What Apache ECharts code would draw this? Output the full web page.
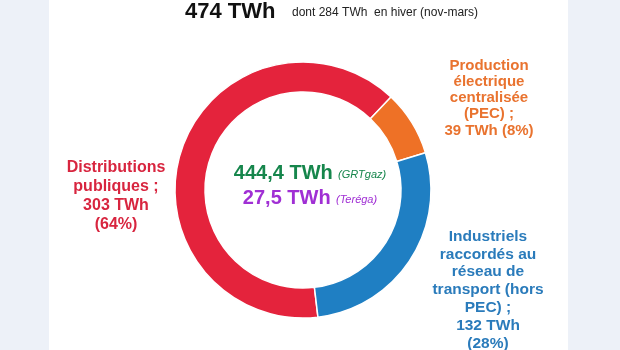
<!DOCTYPE html>
<html>
<head>
<meta charset="utf-8">
<script src="https://cdn.jsdelivr.net/npm/echarts@6/dist/echarts.min.js"></script>
<style>
html,body{margin:0;padding:0;background:#edf1f8;}
#chart{width:620px;height:350px;}
</style>
</head>
<body>
<div id="chart"></div>
<script>
// ---- data ----
var categories = ['Distributions\npubliques', 'Production\nélectrique\ncentralisée\n(PEC)', 'Industriels\nraccordés au\nréseau de\ntransport (hors\nPEC)'];
var values = [303, 39, 132];
var sliceColors = ['#e4233c', '#ee7126', '#1f7fc3'];
var labelColors = ['#d8253f', '#e9732f', '#2a7bbb'];
var totalTWh = [474];
var winterTWh = [284];
var operators = ['GRTgaz', 'Teréga'];
var operatorTWh = ['444,4', '27,5'];
var operatorColors = ['#16864c', '#a02fd4'];

// ---- layout ----
var labelPos = [
  {x: 116, y: 196.5, lh: 19, fs: 16},
  {x: 489, y: 98, lh: 16.3, fs: 15},
  {x: 488, y: 290, lh: 17.8, fs: 15.5}
];

var chart = echarts.init(document.getElementById('chart'), null, {renderer: 'canvas'});
var fontFam = '"Liberation Sans", Arial, sans-serif';

var option = {
  backgroundColor: '#edf1f8',
  animation: false,
  graphic: [
    {type: 'rect', z: -10, shape: {x: 49, y: 0, width: 519, height: 350}, style: {fill: '#ffffff'}},
    {type: 'text', left: 185, top: 1, style: {text: totalTWh[0] + ' TWh', font: 'bold 22px ' + fontFam, fill: '#111111'}},
    {type: 'text', left: 292, top: 7, style: {text: 'dont ' + winterTWh[0] + ' TWh  en hiver (nov-mars)', font: '12px ' + fontFam, fill: '#222222'}},
    {type: 'text', x: 310, y: 173, style: {
      text: '{a|' + operatorTWh[0] + ' TWh} {b|(' + operators[0] + ')}',
      align: 'center', verticalAlign: 'middle',
      rich: {
        a: {font: 'bold 20px ' + fontFam, fill: operatorColors[0]},
        b: {font: 'italic 11px ' + fontFam, fill: operatorColors[0], padding: [4, 0, 0, 2]}
      }
    }},
    {type: 'text', x: 310, y: 198, style: {
      text: '{a|' + operatorTWh[1] + ' TWh} {b|(' + operators[1] + ')}',
      align: 'center', verticalAlign: 'middle',
      rich: {
        a: {font: 'bold 20px ' + fontFam, fill: operatorColors[1]},
        b: {font: 'italic 11px ' + fontFam, fill: operatorColors[1], padding: [4, 0, 0, 2]}
      }
    }}
  ],
  series: [{
    type: 'pie',
    center: [303, 190],
    radius: [98, 128],
    startAngle: -83.3,
    clockwise: true,
    percentPrecision: 0,
    avoidLabelOverlap: false,
    itemStyle: {borderColor: '#ffffff', borderWidth: 1.5},
    labelLine: {show: false},
    label: {
      show: true,
      position: 'outside',
      fontFamily: fontFam,
      fontWeight: 'bold',
      align: 'center',
      formatter: function (p) {
        var sep = p.dataIndex === 1 ? ' ' : '\n';
        return p.name + ' ;\n' + p.value + ' TWh' + sep + '(' + p.percent + '%)';
      }
    },
    labelLayout: function (params) {
      var lp = labelPos[params.dataIndex];
      return {x: lp.x, y: lp.y, align: 'center', verticalAlign: 'middle'};
    },
    data: categories.map(function (c, i) {
      return {
        name: c, value: values[i],
        itemStyle: {color: sliceColors[i]},
        label: {color: labelColors[i], fontSize: labelPos[i].fs, lineHeight: labelPos[i].lh}
      };
    })
  }]
};
chart.setOption(option);
</script>
</body>
</html>
